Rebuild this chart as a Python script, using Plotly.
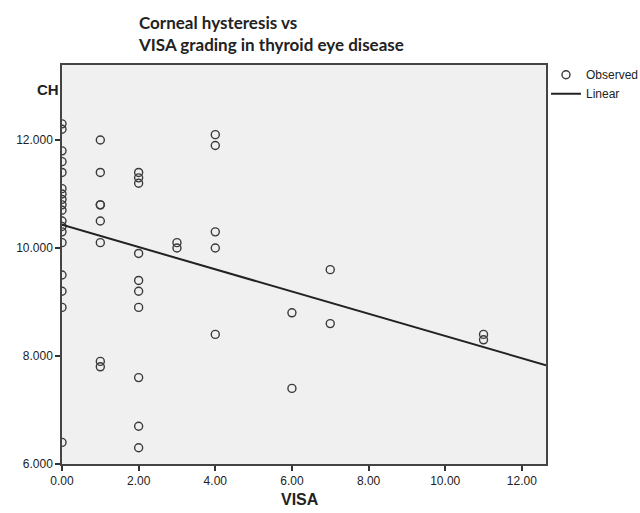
import plotly.graph_objects as go

# Observed data (VISA grade, corneal hysteresis)
visa = ([0] * 18 + [1] * 8 + [2] * 10 + [3] * 2 + [4] * 5 + [6] * 2 + [7] * 2 + [11] * 2)
ch = [12.3, 12.2, 11.8, 11.6, 11.4, 11.1, 11.0, 10.9, 10.8, 10.7, 10.5, 10.4, 10.3, 10.1, 9.5, 9.2, 8.9, 6.4,
      12.0, 11.4, 10.8, 10.8, 10.5, 10.1, 7.9, 7.8,
      11.4, 11.3, 11.2, 9.9, 9.4, 9.2, 8.9, 7.6, 6.7, 6.3,
      10.1, 10.0,
      12.1, 11.9, 10.3, 10.0, 8.4,
      8.8, 7.4,
      9.6, 8.6,
      8.4, 8.3]

# Linear fit line
linear_x = [0.0, 12.63]
linear_y = [10.43, 7.83]

x_ticks = [0, 2, 4, 6, 8, 10, 12]
y_ticks = [6, 8, 10, 12]

fig = go.Figure()
fig.add_trace(go.Scatter(
    x=visa, y=ch, mode="markers", name="Observed",
    marker=dict(symbol="circle-open", size=8, color="#3a3a3a", line=dict(width=1.4, color="#3a3a3a")),
))
fig.add_trace(go.Scatter(
    x=linear_x, y=linear_y, mode="lines", name="Linear",
    line=dict(color="#222222", width=2),
))

axis_common = dict(
    showgrid=False, zeroline=False, showline=True, mirror=True,
    linecolor="#444444", linewidth=1.5,
    ticks="outside", ticklen=5, tickwidth=1.5, tickcolor="#333333",
    tickfont=dict(family="Liberation Sans, Arial", size=12, color="#222222"),
)

fig.update_layout(
    width=640, height=513,
    margin=dict(l=62, r=94, t=65, b=49, autoexpand=False),
    paper_bgcolor="white", plot_bgcolor="#f0f0f0",
    showlegend=True,
    legend=dict(x=1.0, y=1.012, xanchor="left", yanchor="top",
                font=dict(family="Liberation Sans, Arial", size=12, color="#222222"),
                bgcolor="rgba(0,0,0,0)", itemwidth=30, tracegroupgap=0),
    xaxis=dict(range=[0, 12.63], tickvals=x_ticks, tickformat=".2f", **axis_common),
    yaxis=dict(range=[6, 13.39], tickvals=y_ticks, tickformat=".3f", **axis_common),
    annotations=[
        dict(text="<b>Corneal hysteresis vs<br>VISA grading in thyroid eye disease</b>",
             xref="paper", yref="paper", x=(136 - 62) / 484, y=1 + (65 - 10) / 399,
             xanchor="left", yanchor="top", align="left", showarrow=False,
             font=dict(family="Lato, Open Sans", size=17, color="#222222")),
        dict(text="<b>CH</b>", xref="paper", yref="paper", x=-(62 - 35) / 484, y=1 - (90 - 65) / 399,
             xanchor="left", yanchor="middle", showarrow=False,
             font=dict(family="Liberation Sans, Arial", size=15, color="#222222")),
        dict(text="<b>VISA</b>", xref="paper", yref="paper", x=(300 - 62) / 484, y=-(499 - 464) / 399,
             xanchor="center", yanchor="middle", showarrow=False,
             font=dict(family="Liberation Sans, Arial", size=16, color="#222222")),
    ],
)

fig.write_html("out.html", config={"displayModeBar": False},
               post_script="document.body.style.margin='0';document.body.style.padding='0';")
